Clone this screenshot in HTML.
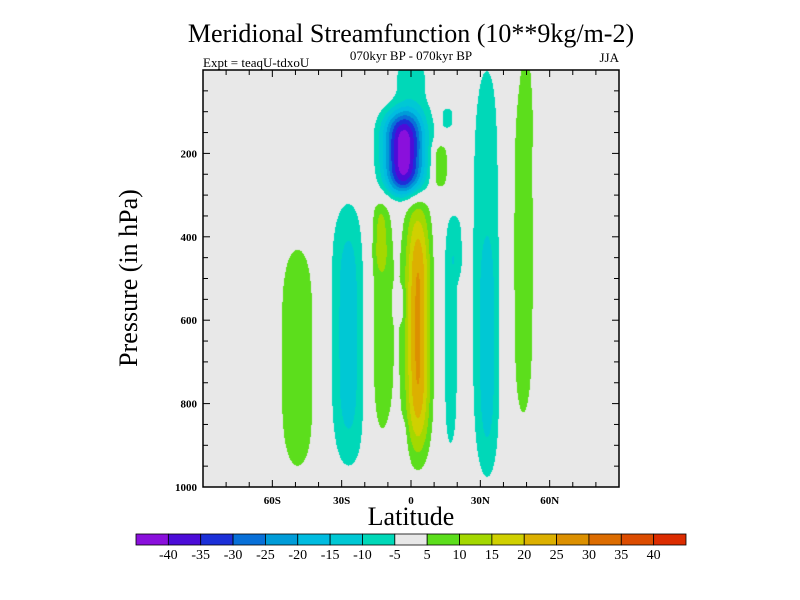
<!DOCTYPE html>
<html><head><meta charset="utf-8"><style>
body{margin:0;background:#fff;width:800px;height:600px;overflow:hidden;font-family:"Liberation Serif",serif;}
</style></head><body>
<svg id="svg" width="800" height="600" xmlns="http://www.w3.org/2000/svg" style="position:absolute;left:0;top:0">
<text x="411" y="42" font-size="26" text-anchor="middle">Meridional Streamfunction (10**9kg/m-2)</text>
<text x="411" y="60" font-size="13" text-anchor="middle">070kyr BP - 070kyr BP</text>
<text x="203" y="67" font-size="13">Expt = teaqU-tdxoU</text>
<text x="619" y="62" font-size="13" text-anchor="end">JJA</text>
<foreignObject x="203" y="70" width="416" height="417"><canvas xmlns="http://www.w3.org/1999/xhtml" id="cv" width="416" height="417"></canvas></foreignObject>
<rect x="203" y="70" width="416" height="417" fill="none" stroke="#000" stroke-width="1.5"/>
<g id="axes"></g>
<text x="411" y="525" font-size="26" text-anchor="middle">Latitude</text>
<text transform="translate(137,278) rotate(-90)" font-size="26" text-anchor="middle">Pressure (in hPa)</text>
<g id="cbar"></g>
</svg>
<script>
const levels=[-40,-35,-30,-25,-20,-15,-10,-5,5,10,15,20,25,30,35,40];
const colors=["#8a10dc","#4c0cd8","#1c30d8","#0870d8","#009cd8","#00bce0","#00c8d4","#00d8b8","#e8e8e8","#5cde1c","#a4d800","#d0d000","#dcb000","#dc9000","#dc6c00","#dc4c00","#dc2c00"];
const latTicks=[-60,-30,0,30,60];
const latTickLabels=["60S","30S","0","30N","60N"];
const pTicks=[200,400,600,800,1000];
// blob data: latitude, pressure, lat-width, pressure-width, amplitude
const blobLat=[-49,-27,-13,-13,3,-3,0,12.5,17,16,33,33,19,48,50,-5,-5];
const blobP=[690,635,600,400,620,200,40,230,660,115,475,660,420,440,60,900,560];
const blobSx=[10,8.2,6.5,3,5.5,9,8.7,3.5,4,3.5,8.5,3.5,3.5,7.3,2.5,3,2];
const blobSp=[313,318,308,80,300,100,72,55,300,31,574,250,80,495,120,60,40];
const blobAmp=[8,-13,9,6,26,-44,-8,12,-7,-6,-8,-7,-5,7.5,3,-6,-6];

const X0=203,X1=619,Y0=70,Y1=487;
const xs=l=>X0+(l+90)/180*(X1-X0);
const ys=p=>Y0+p/1000*(Y1-Y0);
const NS="http://www.w3.org/2000/svg";
function mk(t,a,p){const e=document.createElementNS(NS,t);for(const k in a)e.setAttribute(k,a[k]);(p||document.getElementById('axes')).appendChild(e);return e;}
function field(lat,p){let v=0;for(let i=0;i<blobLat.length;i++){const dx=(lat-blobLat[i])/blobSx[i],dp=(p-blobP[i])/blobSp[i];v+=blobAmp[i]*Math.exp(-dx*dx-dp*dp*dp*dp);}return v;}
function cls(v){let k=0;while(k<levels.length&&v>=levels[k])k++;if(v>-5&&v<5)return 8;return k;}
const cv=document.getElementById('cv'),ctx=cv.getContext('2d');
const img=ctx.createImageData(416,417);
const rgb=colors.map(c=>[parseInt(c.substr(1,2),16),parseInt(c.substr(3,2),16),parseInt(c.substr(5,2),16)]);
for(let j=0;j<417;j++)for(let i=0;i<416;i++){const lat=-90+(i+0.5)/416*180,p=(j+0.5)/417*1000;const c=rgb[cls(field(lat,p))];const o=(j*416+i)*4;img.data[o]=c[0];img.data[o+1]=c[1];img.data[o+2]=c[2];img.data[o+3]=255;}
ctx.putImageData(img,0,0);
for(let l=-80;l<=80;l+=10){const x=xs(l),maj=latTicks.includes(l);const L=maj?7:5;
 let e=mk('line',{x1:x,x2:x,y1:Y1,y2:Y1-L,stroke:'#000'});
 e=mk('line',{x1:x,x2:x,y1:Y0,y2:Y0+L,stroke:'#000'});}
latTicks.forEach((l,i)=>{const t=mk('text',{x:xs(l),y:Y1+17,'font-size':11,'font-weight':'bold','text-anchor':'middle'});t.textContent=latTickLabels[i];});
for(let p=50;p<1000;p+=50){const y=ys(p),maj=pTicks.includes(p);const L=maj?7:5;
 let e=mk('line',{x1:X0,x2:X0+L,y1:y,y2:y,stroke:'#000'});
 e=mk('line',{x1:X1,x2:X1-L,y1:y,y2:y,stroke:'#000'});}
pTicks.forEach(p=>{const t=mk('text',{x:X0-6,y:ys(p)+4,'font-size':11,'font-weight':'bold','text-anchor':'end'});t.textContent=p;});
const cb=document.getElementById('cbar');const cbx=136,cbw=550/colors.length;
colors.forEach((c,i)=>{const r=mk('rect',{x:cbx+i*cbw,y:534,width:cbw,height:11,fill:c,stroke:'#000','stroke-width':0.8},cb);});
levels.forEach((v,i)=>{const t=mk('text',{x:cbx+(i+1)*cbw,y:559,'font-size':14,'text-anchor':'middle'},cb);t.textContent=v;});
</script>
</body></html>
